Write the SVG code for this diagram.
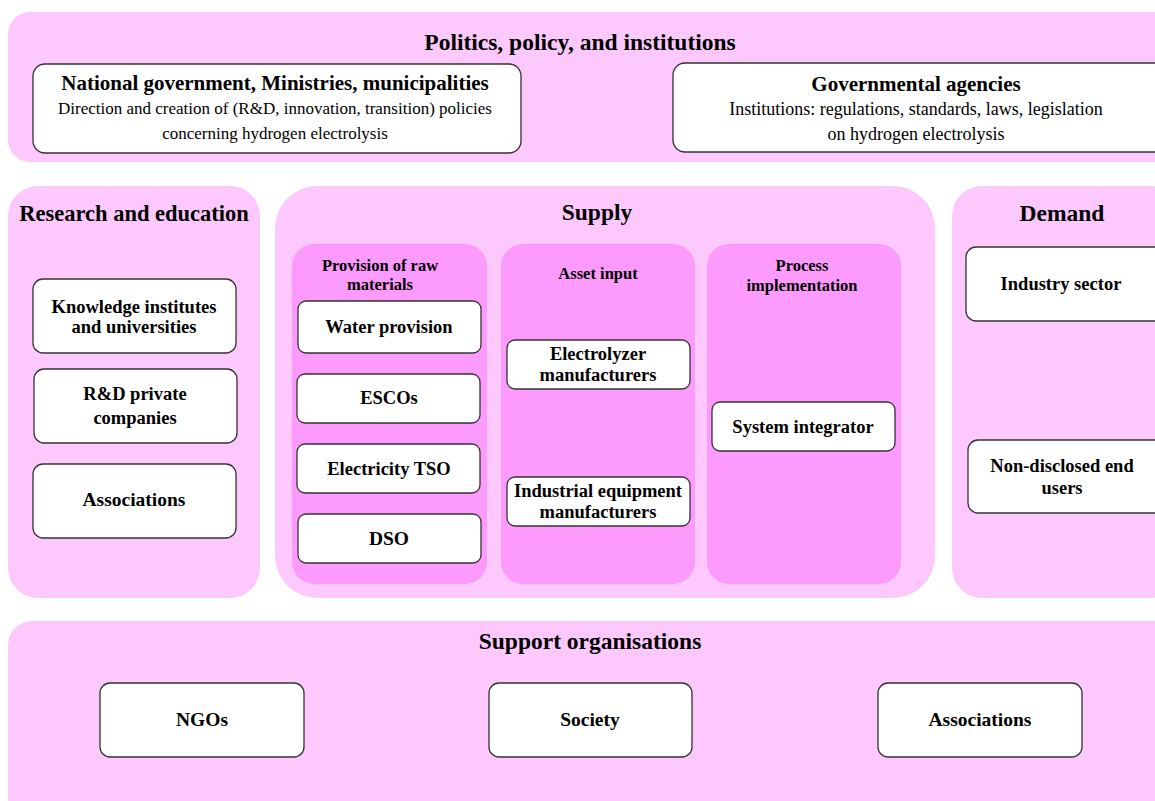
<svg xmlns="http://www.w3.org/2000/svg" width="1155" height="801" viewBox="0 0 1155 801">
  <style>
    .panel { fill: #fdc9fd; stroke: none; }
    .sub { fill: #fd9afd; stroke: none; }
    .box { fill: #ffffff; stroke: #333333; stroke-width: 1.3; }
    text { font-family: "Liberation Serif", "Times New Roman", serif; fill: #000000; text-anchor: middle; }
    .h1 { font-size: 23.5px; font-weight: bold; }
    .h2 { font-size: 21px; font-weight: bold; }
    .h3 { font-size: 16.5px; font-weight: bold; }
    .lbl { font-size: 18.5px; font-weight: bold; }
    .lbl-w { font-size: 19.5px; font-weight: bold; }
    .desc { font-size: 17px; }
  </style>

  <!-- Politics, policy, and institutions -->
  <g id="politics">
    <rect class="panel" x="8" y="12" width="1170" height="150" rx="22"/>
    <text class="h1" x="580" y="50">Politics, policy, and institutions</text>
  </g>
  <g id="national-government">
    <rect class="box" x="33" y="64" width="488" height="89" rx="12"/>
    <text class="h2" x="275" y="90">National government, Ministries, municipalities</text>
    <text class="desc" x="275" y="114">Direction and creation of (R&amp;D, innovation, transition) policies</text>
    <text class="desc" x="275" y="139">concerning hydrogen electrolysis</text>
  </g>
  <g id="governmental-agencies">
    <rect class="box" x="673" y="63" width="500" height="89" rx="12"/>
    <text class="h2" x="916" y="91">Governmental agencies</text>
    <text class="desc" x="916" y="115" style="font-size:18px">Institutions: regulations, standards, laws, legislation</text>
    <text class="desc" x="916" y="140" style="font-size:18px">on hydrogen electrolysis</text>
  </g>

  <!-- Research and education -->
  <g id="research">
    <rect class="panel" x="8" y="186" width="252" height="412" rx="30"/>
    <text class="h1" x="134" y="221" style="font-size:22.5px">Research and education</text>
  </g>
  <g id="knowledge-institutes">
    <rect class="box" x="33" y="279" width="203" height="74" rx="10"/>
    <text class="lbl" x="134" y="313">Knowledge institutes</text>
    <text class="lbl" x="134" y="333">and universities</text>
  </g>
  <g id="rd-private">
    <rect class="box" x="34" y="369" width="203" height="74" rx="10"/>
    <text class="lbl" x="135" y="400">R&amp;D private</text>
    <text class="lbl" x="135" y="424">companies</text>
  </g>
  <g id="research-associations">
    <rect class="box" x="33" y="464" width="203" height="74" rx="10"/>
    <text class="lbl-w" x="134" y="506">Associations</text>
  </g>

  <!-- Supply -->
  <g id="supply">
    <rect class="panel" x="275" y="186" width="660" height="412" rx="42"/>
    <text class="h1" x="597" y="220">Supply</text>
  </g>
  <g id="raw-materials">
    <rect class="sub" x="292" y="244" width="195" height="340" rx="22"/>
    <text class="h3" x="380" y="271">Provision of raw</text>
    <text class="h3" x="380" y="290">materials</text>
  </g>
  <g id="asset-input">
    <rect class="sub" x="501" y="244" width="194" height="340" rx="22"/>
    <text class="h3" x="598" y="279">Asset input</text>
  </g>
  <g id="process-implementation">
    <rect class="sub" x="707" y="244" width="194" height="340" rx="22"/>
    <text class="h3" x="802" y="271">Process</text>
    <text class="h3" x="802" y="291">implementation</text>
  </g>
  <g id="water-provision">
    <rect class="box" x="298" y="301" width="183" height="52" rx="8"/>
    <text class="lbl" x="389" y="333">Water provision</text>
  </g>
  <g id="escos">
    <rect class="box" x="297" y="374" width="183" height="49" rx="8"/>
    <text class="lbl" x="389" y="404">ESCOs</text>
  </g>
  <g id="electricity-tso">
    <rect class="box" x="297" y="444" width="183" height="49" rx="8"/>
    <text class="lbl" x="389" y="475">Electricity TSO</text>
  </g>
  <g id="dso">
    <rect class="box" x="298" y="514" width="183" height="49" rx="8"/>
    <text class="lbl-w" x="389" y="545">DSO</text>
  </g>
  <g id="electrolyzer-manufacturers">
    <rect class="box" x="507" y="340" width="183" height="49" rx="8"/>
    <text class="lbl" x="598" y="360">Electrolyzer</text>
    <text class="lbl" x="598" y="381">manufacturers</text>
  </g>
  <g id="industrial-equipment">
    <rect class="box" x="507" y="477" width="183" height="49" rx="8"/>
    <text class="lbl" x="598" y="497">Industrial equipment</text>
    <text class="lbl" x="598" y="518">manufacturers</text>
  </g>
  <g id="system-integrator">
    <rect class="box" x="712" y="402" width="183" height="49" rx="8"/>
    <text class="lbl" x="803" y="433">System integrator</text>
  </g>

  <!-- Demand -->
  <g id="demand">
    <rect class="panel" x="952" y="186" width="230" height="412" rx="30"/>
    <text class="h1" x="1062" y="221">Demand</text>
  </g>
  <g id="industry-sector">
    <rect class="box" x="966" y="247" width="200" height="74" rx="10"/>
    <text class="lbl" x="1061" y="290">Industry sector</text>
  </g>
  <g id="non-disclosed">
    <rect class="box" x="968" y="440" width="200" height="73" rx="10"/>
    <text class="lbl" x="1062" y="472">Non-disclosed end</text>
    <text class="lbl" x="1062" y="494">users</text>
  </g>

  <!-- Support organisations -->
  <g id="support">
    <rect class="panel" x="8" y="621" width="1170" height="200" rx="24"/>
    <text class="h1" x="590" y="649">Support organisations</text>
  </g>
  <g id="ngos">
    <rect class="box" x="100" y="683" width="204" height="74" rx="10"/>
    <text class="lbl-w" x="202" y="726">NGOs</text>
  </g>
  <g id="society">
    <rect class="box" x="489" y="683" width="203" height="74" rx="10"/>
    <text class="lbl-w" x="590" y="726">Society</text>
  </g>
  <g id="support-associations">
    <rect class="box" x="878" y="683" width="204" height="74" rx="10"/>
    <text class="lbl-w" x="980" y="726">Associations</text>
  </g>

  <!-- no connectors in this chart -->
  <g id="connectors"/>
</svg>
